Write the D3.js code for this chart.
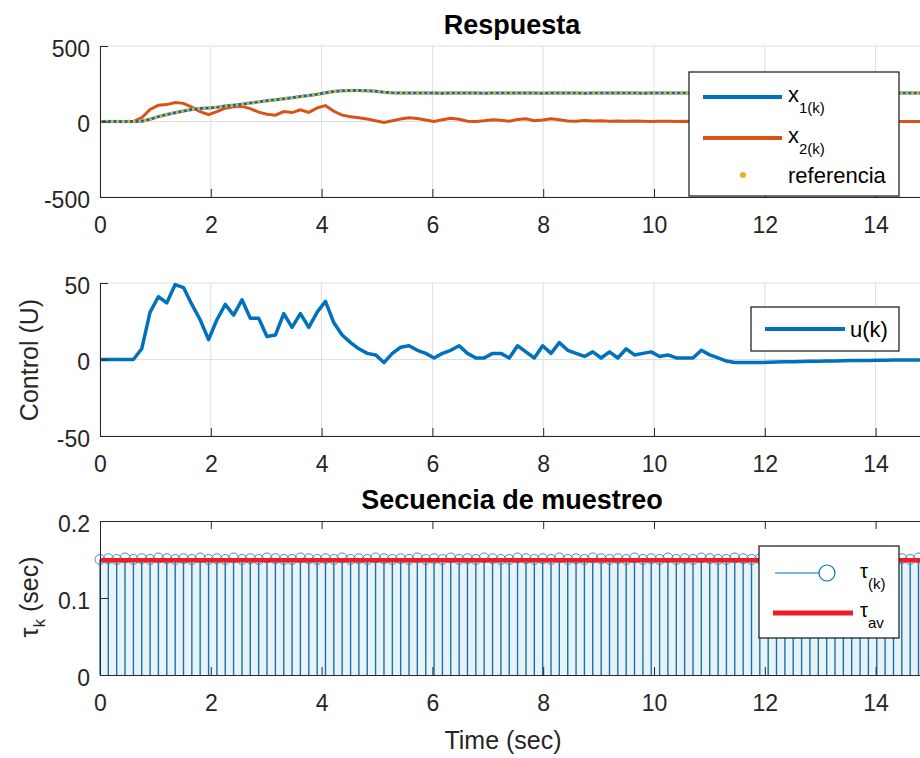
<!DOCTYPE html>
<html>
<head>
<meta charset="utf-8">
<script src="https://cdn.jsdelivr.net/npm/d3@7"></script>
<style>
  body { margin: 0; background: #fff; }
</style>
</head>
<body>
<div id="chart"></div>
<script>

// sampling intervals tau(k), seconds
var tau = [
  0.150, 0.151, 0.150, 0.152, 0.150, 0.151, 0.150, 0.152, 0.151, 0.150,
  0.151, 0.150, 0.152, 0.150, 0.151, 0.150, 0.152, 0.150, 0.151, 0.150,
  0.152, 0.151, 0.150, 0.150, 0.152, 0.151, 0.150, 0.151, 0.150, 0.152,
  0.150, 0.151, 0.150, 0.152, 0.151, 0.150, 0.151, 0.150, 0.152, 0.150,
  0.151, 0.150, 0.152, 0.150, 0.151, 0.150, 0.152, 0.151, 0.150, 0.150,
  0.152, 0.151, 0.150, 0.151, 0.150, 0.152, 0.150, 0.151, 0.150, 0.152,
  0.151, 0.150, 0.151, 0.150, 0.152, 0.150, 0.151, 0.150, 0.152, 0.150,
  0.151, 0.150, 0.152, 0.151, 0.150, 0.150, 0.152, 0.151, 0.150, 0.151,
  0.150, 0.152, 0.150, 0.151, 0.150, 0.152, 0.151, 0.150, 0.151, 0.150,
  0.152, 0.150, 0.151, 0.150, 0.152, 0.150, 0.151, 0.150, 0.152, 0.151,
  0.150
];
var tauAv = 0.149;

// Respuesta: states and reference, one value per sample
var x1 = [
  0, 0, 0, 0, 0, 2, 15, 32, 46, 58,
  70, 80, 86, 90, 95, 102, 108, 114, 122, 130,
  138, 144, 150, 158, 165, 172, 180, 190, 198, 203,
  206, 205, 203, 200, 193, 190, 189, 188, 188, 189,
  188, 187, 188, 189, 188, 188, 187, 188, 189, 188,
  188, 189, 188, 187, 188, 189, 188, 188, 187, 188,
  188, 188, 189, 188, 188, 187, 188, 188, 188, 188,
  188, 188, 188, 188, 188, 188, 188, 188, 188, 188,
  188, 188, 188, 188, 188, 188, 188, 188, 188, 188,
  188, 188, 188, 188, 188, 188, 188, 188, 188, 188,
  188
];
var x2 = [
  0, 0, 0, 0, 0, 25, 80, 108, 112, 125,
  120, 95, 65, 45, 66, 88, 98, 100, 85, 62,
  48, 42, 66, 59, 78, 60, 90, 105, 68, 42,
  32, 25, 16, 5, -6, 5, 16, 24, 20, 10,
  0, 12, 22, 15, 2, 0, 5, 12, 8, 2,
  14, 18, 5, 10, 18, 12, 4, 2, 6, 3,
  5, 2, 4, 1, 3, 2, 0, 2, 1, 0,
  1, 0, 3, 1, -2, -3, -2, -1, -1, 0,
  0, 0, 0, 0, 0, 0, 0, 0, 0, 0,
  0, 0, 0, 0, 0, 0, 0, 0, 0, 0,
  0
];
var ref = [
  0, 0, 0, 0, 0, 2, 15, 32, 46, 58,
  70, 80, 86, 90, 95, 102, 108, 114, 122, 130,
  138, 144, 150, 158, 165, 172, 180, 190, 198, 203,
  206, 205, 203, 200, 193, 190, 189, 188, 188, 189,
  188, 187, 188, 189, 188, 188, 187, 188, 189, 188,
  188, 189, 188, 187, 188, 189, 188, 188, 187, 188,
  188, 188, 189, 188, 188, 187, 188, 188, 188, 188,
  188, 188, 188, 188, 188, 188, 188, 188, 188, 188,
  188, 188, 188, 188, 188, 188, 188, 188, 188, 188,
  188, 188, 188, 188, 188, 188, 188, 188, 188, 188,
  188
];

// Control (U)
var u = [
  0, 0, 0, 0, 0, 7, 31, 41, 37, 49,
  47, 36, 26, 13, 26, 36, 29, 39, 27, 27,
  15, 16, 30, 21, 30, 21, 31, 38, 24, 16,
  11, 7, 4, 3, -2, 4, 8, 9, 6, 4,
  1, 4, 6, 9, 4, 1, 1, 4, 4, 1,
  9, 5, 1, 9, 4, 11, 6, 4, 2, 5,
  1, 5, 1, 7, 3, 4, 5, 2, 3, 1,
  1, 1, 6, 3, 1, -1, -2, -2, -2, -2,
  -1.8, -1.6, -1.5, -1.4, -1.3, -1.2, -1.1, -1, -0.9, -0.8,
  -0.7, -0.7, -0.6, -0.5, -0.5, -0.4, -0.4, -0.3, -0.3, -0.2,
  -0.2
];

var xTicks = [0, 2, 4, 6, 8, 10, 12, 14];
var yTicks1 = [-500, 0, 500];
var yTicks2 = [-50, 0, 50];
var yTicks3 = [0, 0.1, 0.2];

// sample instants from the intervals
var time = [0];
for (var k = 1; k < tau.length; k++) time.push(time[k - 1] + tau[k - 1]);

var W = 920, H = 758;
var ink = "#262626", gridCol = "#dedede";
var blue = "#0072BD", orange = "#D95319", yellow = "#EDB120";
var font = "'Liberation Sans', Arial, sans-serif";

var svg = d3.select("#chart").append("svg")
    .attr("width", W).attr("height", H)
    .style("font-family", font);

var x = d3.scaleLinear().domain([0, 15]).range([100, 931]);
var plain = d => String(d);

function panel(top, bottom, dom, ticks, grid, box) {
  var y = d3.scaleLinear().domain(dom).range([bottom, top]);
  var g = svg.append("g");

  if (grid) {
    g.append("g").selectAll("line").data(xTicks).join("line")
        .attr("x1", d => x(d)).attr("x2", d => x(d))
        .attr("y1", top).attr("y2", bottom)
        .attr("stroke", gridCol);
    g.append("g").selectAll("line").data(ticks).join("line")
        .attr("x1", x(0)).attr("x2", W)
        .attr("y1", d => y(d)).attr("y2", d => y(d))
        .attr("stroke", gridCol);
  }

  var axes = g.append("g").attr("class", "axes");

  var bx = axes.append("g")
      .attr("transform", `translate(0,${bottom})`)
      .call(d3.axisBottom(x).tickValues(xTicks).tickFormat(plain).tickSizeInner(-8).tickSizeOuter(0));
  bx.selectAll("text").attr("y", 36).attr("dy", null);

  var ly = axes.append("g")
      .attr("transform", `translate(${x(0)},0)`)
      .call(d3.axisLeft(y).tickValues(ticks).tickFormat(plain).tickSizeInner(-8).tickSizeOuter(0));
  ly.selectAll("text").attr("x", -10).attr("dy", "0.45em");

  if (box) {
    axes.append("g")
        .attr("transform", `translate(0,${top})`)
        .call(d3.axisTop(x).tickValues(xTicks).tickSizeInner(-8).tickSizeOuter(0).tickFormat(""));
  }

  axes.selectAll("g").attr("font-family", font).attr("font-size", 23);
  axes.selectAll(".tick text").attr("fill", ink);
  axes.selectAll(".tick line").attr("stroke", ink);
  axes.selectAll(".domain").attr("stroke", ink);

  return {g: g, y: y};
}

function title(txt, cy) {
  svg.append("text")
      .attr("x", 512).attr("y", cy)
      .attr("text-anchor", "middle")
      .attr("font-size", 27).attr("font-weight", "bold")
      .attr("fill", "#000")
      .text(txt);
}

var line = y => d3.line().x((d, i) => x(time[i])).y(d => y(d));

// ---- Respuesta
var p1 = panel(46, 197, [-500, 500], yTicks1, true, false);
p1.g.append("path").datum(x2).attr("d", line(p1.y))
    .attr("fill", "none").attr("stroke", orange).attr("stroke-width", 3);
p1.g.append("path").datum(x1).attr("d", line(p1.y))
    .attr("fill", "none").attr("stroke", blue).attr("stroke-width", 3);
p1.g.append("path").datum(ref).attr("d", line(p1.y))
    .attr("fill", "none").attr("stroke", yellow).attr("stroke-width", 3.5)
    .attr("stroke-dasharray", "2.5,3");
p1.g.select(".axes").raise();
title("Respuesta", 34);

// ---- Control
var p2 = panel(283, 436, [-50, 50], yTicks2, true, false);
p2.g.append("path").datum(u).attr("d", line(p2.y))
    .attr("fill", "none").attr("stroke", blue).attr("stroke-width", 3.5)
    .attr("stroke-linejoin", "round");
p2.g.select(".axes").raise();
svg.append("text")
    .attr("transform", "translate(38,360) rotate(-90)")
    .attr("text-anchor", "middle").attr("font-size", 25).attr("fill", ink)
    .text("Control (U)");

// ---- Secuencia de muestreo
var p3 = panel(521, 675, [0, 0.2], yTicks3, false, true);
p3.g.append("path").datum(tau)
    .attr("d", d3.area().x((d, i) => x(time[i])).y0(p3.y(0)).y1(d => p3.y(d)).curve(d3.curveStepAfter))
    .attr("fill", "#e6f4fa");
p3.g.append("g").selectAll("line").data(tau).join("line")
    .attr("x1", (d, i) => x(time[i])).attr("x2", (d, i) => x(time[i]))
    .attr("y1", p3.y(0)).attr("y2", d => p3.y(d))
    .attr("stroke", "#1f6fa8").attr("stroke-width", 1.4);
p3.g.append("g").selectAll("circle").data(tau).join("circle")
    .attr("cx", (d, i) => x(time[i])).attr("cy", d => p3.y(d)).attr("r", 5)
    .attr("fill", "none").attr("stroke", "#3b8fc9").attr("stroke-width", 1);
p3.g.append("path").datum(tau.map(() => tauAv))
    .attr("d", line(p3.y))
    .attr("fill", "none").attr("stroke", "#ee1c25").attr("stroke-width", 4.5);
p3.g.select(".axes").raise();
title("Secuencia de muestreo", 509);

var tl = svg.append("text")
    .attr("transform", "translate(38,597) rotate(-90)")
    .attr("text-anchor", "middle").attr("font-size", 25).attr("fill", ink);
tl.append("tspan").text("\u03C4");
tl.append("tspan").attr("dy", 7).attr("font-size", 17).text("k");
tl.append("tspan").attr("dy", -7).text(" (sec)");

svg.append("text")
    .attr("x", 503).attr("y", 749)
    .attr("text-anchor", "middle").attr("font-size", 25).attr("fill", ink)
    .text("Time (sec)");

// ---- legends
function box(x0, y0, w, h) {
  var g = svg.append("g");
  g.append("rect").attr("x", x0).attr("y", y0).attr("width", w).attr("height", h)
      .attr("fill", "#fff").attr("stroke", ink).attr("stroke-width", 1.3);
  return g;
}
function subText(g, xx, yy, main, sub, fs) {
  var t = g.append("text").attr("x", xx).attr("y", yy).attr("font-size", fs).attr("fill", "#000");
  t.append("tspan").text(main);
  t.append("tspan").attr("dy", 11).attr("font-size", 15).text(sub);
}

var L1 = box(689, 72, 210, 124);
L1.append("line").attr("x1", 703).attr("x2", 782).attr("y1", 97).attr("y2", 97)
    .attr("stroke", blue).attr("stroke-width", 4);
subText(L1, 788, 102, "x", "1(k)", 22);
L1.append("line").attr("x1", 703).attr("x2", 782).attr("y1", 138).attr("y2", 138)
    .attr("stroke", orange).attr("stroke-width", 4);
subText(L1, 788, 143, "x", "2(k)", 22);
L1.append("circle").attr("cx", 743).attr("cy", 175).attr("r", 3).attr("fill", yellow);
L1.append("text").attr("x", 788).attr("y", 183).attr("font-size", 22).attr("fill", "#000").text("referencia");

var L2 = box(751, 307, 148, 44);
L2.append("line").attr("x1", 765).attr("x2", 845).attr("y1", 329).attr("y2", 329)
    .attr("stroke", blue).attr("stroke-width", 4);
L2.append("text").attr("x", 850).attr("y", 337).attr("font-size", 22).attr("fill", "#000").text("u(k)");

var L3 = box(759, 546, 140, 92);
L3.append("line").attr("x1", 775).attr("x2", 819).attr("y1", 573).attr("y2", 573)
    .attr("stroke", blue).attr("stroke-width", 1.2);
L3.append("circle").attr("cx", 827).attr("cy", 573).attr("r", 8)
    .attr("fill", "none").attr("stroke", blue).attr("stroke-width", 1.2);
subText(L3, 860, 578, "\u03C4", "(k)", 20);
L3.append("line").attr("x1", 773).attr("x2", 853).attr("y1", 613).attr("y2", 613)
    .attr("stroke", "#ee1c25").attr("stroke-width", 5);
subText(L3, 860, 617, "\u03C4", "av", 20);

</script>
</body>
</html>
